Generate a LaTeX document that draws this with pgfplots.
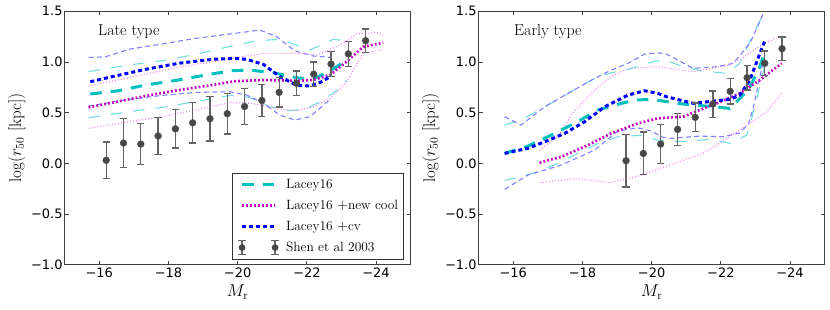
\documentclass[border=0pt]{standalone}
\usepackage{fontspec}
\usepackage{pgfplots}
\pgfplotsset{compat=1.18}
\newfontfamily\tickfont{DejaVu Sans}

\definecolor{mc}{RGB}{0,191,191}
\definecolor{mm}{RGB}{191,0,191}
\definecolor{mb}{RGB}{0,0,255}
\definecolor{lc}{RGB}{115,222,222}
\definecolor{lm}{RGB}{232,135,232}
\definecolor{lb}{RGB}{128,128,255}
\definecolor{dg}{RGB}{72,72,72}
\definecolor{eg}{RGB}{100,100,100}

\pgfplotsset{
 panel/.style={
  scale only axis, width=345.9bp, height=253.4bp,
  xmin=-25, xmax=-15, x dir=reverse, ymin=-1, ymax=1.5,
  xtick={-16,-18,-20,-22,-24}, xticklabels={−16,−18,−20,−22,−24},
  ytick={-1,-0.5,0,0.5,1,1.5}, yticklabels={−1.0,−0.5,0.0,0.5,1.0,1.5},
  tick label style={font={\tickfont\fontsize{13}{15}\selectfont}},
  yticklabel style={inner xsep=2bp},
  major tick length=4bp,
  axis line style={black!75, line width=0.8bp},
  tick style={black!75, line width=0.8bp},
  xlabel={$M_{\mathrm{r}}$}, ylabel={$\log(r_{50}\ [\mathrm{kpc}])$},
  label style={font={\fontsize{17}{20}\selectfont}},
  legend image code/.code={\path[draw=none, fill=none] (0bp,-2bp) rectangle (49bp,2bp); \draw[##1] (7bp,0bp) -- (40bp,0bp);},
 },
 medc/.style={mc, line width=3bp, dash pattern=on 11.5bp off 9bp},
 medm/.style={mm, line width=2.6bp, dash pattern=on 1.8bp off 2.2bp},
 medb/.style={mb, line width=3bp, dash pattern=on 4bp off 3bp},
 thc/.style={lc, line width=1.1bp, dash pattern=on 11.5bp off 11bp, forget plot},
 thm/.style={lm, line width=1.1bp, dash pattern=on 1bp off 2bp, forget plot},
 thb/.style={lb, line width=1.1bp, dash pattern=on 5bp off 3.3bp, forget plot},
 obs/.style={forget plot, only marks, mark=*, mark size=3.4bp, color=dg,
  error bars/.cd, y dir=both, y explicit,
  error bar style={eg, line width=1.3bp},
  error mark options={eg, rotate=90, mark size=3.6bp, line width=1.3bp}},
}

\begin{document}
\begin{tikzpicture}
\path[use as bounding box] (-64.7bp,-45.3bp) rectangle (765.3bp,264.7bp);

% ---------------- Late type ----------------
\begin{axis}[panel, at={(0bp,0bp)}, anchor=south west,
  legend style={at={(0.979,0.021)}, anchor=south east, draw=black!80,
   font={\fontsize{13.5}{16}\selectfont}, row sep=6.3bp, inner xsep=3bp, inner ysep=4bp},
  legend cell align=left]
\addplot[thc] coordinates {(-15.69,0.904) (-16.85,0.97) (-17.81,1.012) (-18.78,1.075) (-19.74,1.15) (-20.55,1.21) (-21.22,1.223) (-21.70,1.167) (-22.09,1.118) (-22.47,1.177) (-22.76,1.223) (-23.15,1.21)};
\addplot[thc] coordinates {(-15.69,0.45) (-16.85,0.509) (-17.81,0.552) (-18.78,0.608) (-19.78,0.67) (-20.36,0.65) (-20.93,0.558) (-21.51,0.519) (-22.00,0.542) (-22.47,0.624) (-22.96,0.74) (-23.15,0.82)};
\addplot[thb] coordinates {(-15.69,1.045) (-16.17,1.05) (-16.85,1.125) (-17.81,1.177) (-18.78,1.233) (-19.78,1.276) (-20.64,1.315) (-21.13,1.25) (-21.65,1.11) (-22.19,1.059) (-22.67,1.045)};
\addplot[thb] coordinates {(-15.69,0.565) (-16.85,0.63) (-17.81,0.67) (-18.78,0.70) (-19.78,0.706) (-20.26,0.674) (-20.74,0.592) (-21.22,0.476) (-21.66,0.427) (-22.09,0.46) (-22.43,0.558) (-22.70,0.64)};
\addplot[thm] coordinates {(-15.69,0.763) (-16.37,0.81) (-17.33,0.88) (-18.29,0.95) (-19.26,1.0) (-19.9,1.04) (-20.74,1.085) (-21.7,1.085) (-22.3,1.07) (-22.96,1.167) (-23.44,1.276) (-24.02,1.29) (-24.21,1.266)};
\addplot[thm] coordinates {(-15.69,0.345) (-16.85,0.41) (-17.81,0.46) (-18.78,0.526) (-19.78,0.60) (-20.36,0.592) (-20.84,0.565) (-21.22,0.533) (-21.70,0.519) (-22.18,0.558) (-22.67,0.64) (-23.15,0.805) (-23.63,1.085) (-24.11,1.118) (-24.21,1.12)};
\addplot[medc] coordinates {(-15.74,0.684) (-16.56,0.716) (-17.33,0.772) (-18.29,0.822) (-19.06,0.871) (-19.84,0.914) (-20.36,0.92) (-21.03,0.894) (-21.70,0.845) (-22.18,0.829) (-22.52,0.888) (-22.86,0.953) (-23.10,1.003)};
\addlegendentry{Lacey16}
\addplot[medm] coordinates {(-15.69,0.552) (-16.37,0.598) (-17.33,0.664) (-18.29,0.723) (-19.26,0.772) (-19.90,0.81) (-20.74,0.822) (-21.70,0.815) (-22.18,0.822) (-22.67,0.871) (-23.15,1.003) (-23.63,1.15) (-24.21,1.19)};
\addlegendentry{Lacey16 $+$new cool}
\addplot[medb] coordinates {(-15.74,0.805) (-16.37,0.855) (-17.33,0.927) (-18.29,0.987) (-19.26,1.026) (-19.90,1.036) (-20.26,1.026) (-20.74,0.977) (-21.22,0.855) (-21.70,0.772) (-22.09,0.763) (-22.43,0.805) (-22.67,0.855)};
\addlegendentry{Lacey16 $+$cv}
\addplot[obs] table[x=x, y=y, y error=e] {
x y e
-16.2 0.03 0.18
-16.7 0.20 0.24
-17.2 0.19 0.20
-17.7 0.27 0.185
-18.2 0.34 0.19
-18.7 0.40 0.20
-19.2 0.44 0.22
-19.7 0.49 0.20
-20.2 0.56 0.18
-20.7 0.62 0.16
-21.2 0.70 0.145
-21.7 0.79 0.12
-22.2 0.88 0.12
-22.7 0.98 0.12
-23.2 1.08 0.125
-23.7 1.21 0.115
};
\addlegendimage{legend image code/.code={
  \path[draw=none, fill=none] (0bp,-2bp) rectangle (49bp,2bp);
  \draw[eg, line width=1.3bp, solid] (7bp,-7bp) -- (7bp,7bp) (3.4bp,-7bp) -- (10.6bp,-7bp) (3.4bp,7bp) -- (10.6bp,7bp);
  \draw[eg, line width=1.3bp, solid] (40bp,-7bp) -- (40bp,7bp) (36.4bp,-7bp) -- (43.6bp,-7bp) (36.4bp,7bp) -- (43.6bp,7bp);
  \fill[dg, draw=none] (7bp,0bp) circle (3.4bp) (40bp,0bp) circle (3.4bp);}}
\addlegendentry{Shen et al 2003}
\node[anchor=west, inner sep=0pt, font={\fontsize{16}{19}\selectfont}] at (rel axis cs:0.096,0.918) {Late type};
\end{axis}

% ---------------- Early type ----------------
\begin{axis}[panel, at={(414bp,0bp)}, anchor=south west]
\addplot[thc] coordinates {(-15.75,0.378) (-16.23,0.427) (-16.91,0.558) (-17.58,0.69) (-18.35,0.838) (-18.83,0.894) (-19.32,0.927) (-19.80,0.98) (-20.34,1.026) (-20.91,0.953) (-21.40,0.914) (-22.17,0.888) (-22.55,0.987) (-22.94,1.283) (-23.28,1.5) (-23.32,1.55)};
\addplot[thc] coordinates {(-15.75,-0.17) (-16.71,-0.085) (-17.29,0.0) (-17.87,0.098) (-18.45,0.197) (-19.03,0.263) (-19.80,0.279) (-20.14,0.23) (-20.91,0.213) (-21.68,0.237) (-22.26,0.197) (-22.75,0.279) (-22.84,0.378) (-23.03,0.624) (-23.28,0.987)};
\addplot[thb] coordinates {(-15.75,0.46) (-16.23,0.378) (-16.91,0.558) (-17.58,0.69) (-18.35,0.838) (-18.83,0.92) (-19.32,0.987) (-19.80,1.078) (-20.18,1.09) (-20.43,1.078) (-21.20,0.937) (-21.88,0.953) (-22.36,0.987) (-22.84,1.184) (-23.23,1.48) (-23.28,1.55)};
\addplot[thb] coordinates {(-15.75,-0.257) (-16.42,-0.116) (-17.39,-0.017) (-18.35,0.131) (-19.03,0.32) (-19.60,0.35) (-19.99,0.32) (-20.3,0.26) (-20.53,0.246) (-21.40,0.269) (-22.07,0.262) (-22.55,0.30) (-22.80,0.39) (-22.94,0.55) (-23.13,0.855) (-23.28,1.085)};
\addplot[thm] coordinates {(-16.76,0.13) (-17.3,0.27) (-17.73,0.50) (-18.35,0.723) (-18.83,0.855) (-19.32,0.937) (-20.18,0.953) (-21.20,0.904) (-22.26,0.97) (-22.84,1.085) (-23.23,1.184) (-23.76,1.256)};
\addplot[thm] coordinates {(-16.77,-0.19) (-17.83,-0.15) (-18.80,-0.19) (-19.57,-0.13) (-19.95,-0.085) (-20.53,-0.017) (-20.91,0.03) (-21.49,0.098) (-21.97,0.2) (-22.84,0.394) (-23.32,0.509) (-23.76,0.69)};
\addplot[medc] coordinates {(-15.75,0.098) (-16.42,0.17) (-17.10,0.279) (-17.8,0.40) (-18.45,0.526) (-18.83,0.565) (-19.51,0.624) (-19.99,0.631) (-20.91,0.585) (-21.59,0.565) (-22.26,0.542) (-22.55,0.64) (-22.84,0.75) (-23.13,0.953) (-23.28,1.118)};
\addplot[medm] coordinates {(-16.76,0.006) (-17.39,0.065) (-18.16,0.18) (-18.83,0.296) (-19.60,0.394) (-20.18,0.444) (-20.91,0.46) (-21.20,0.50) (-21.88,0.592) (-22.55,0.69) (-23.13,0.822) (-23.76,0.987)};
\addplot[medb] coordinates {(-15.75,0.098) (-16.42,0.148) (-16.91,0.213) (-17.49,0.296) (-18.06,0.41) (-18.45,0.509) (-18.64,0.558) (-19.32,0.674) (-19.80,0.716) (-20.18,0.69) (-20.43,0.657) (-21.20,0.592) (-22.26,0.631) (-22.55,0.674) (-22.84,0.822) (-23.13,1.085) (-23.28,1.217)};
\addplot[obs] table[x=x, y=y, y error=e] {
x y e
-19.26 0.026 0.26
-19.76 0.098 0.21
-20.26 0.19 0.195
-20.75 0.335 0.16
-21.26 0.454 0.14
-21.77 0.585 0.13
-22.27 0.71 0.125
-22.76 0.845 0.12
-23.27 0.987 0.12
-23.77 1.131 0.115
};
\node[anchor=west, inner sep=0pt, font={\fontsize{16}{19}\selectfont}] at (rel axis cs:0.102,0.918) {Early type};
\end{axis}
\end{tikzpicture}
\end{document}
